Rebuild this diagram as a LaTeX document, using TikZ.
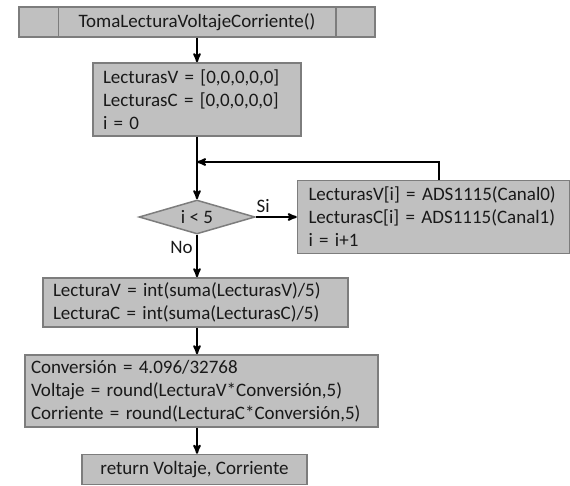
\documentclass[tikz,border=0pt]{standalone}
\usepackage{fontspec}
\setmainfont{Carlito}
\usepackage{tikz}
\usetikzlibrary{arrows}
\usetikzlibrary{positioning}
\usetikzlibrary{shapes.geometric}
\definecolor{boxfill}{RGB}{192,192,192}
\definecolor{boxline}{RGB}{125,125,125}
\tikzset{> = stealth',
  txt/.style = {font = \fontsize{19}{23}\selectfont, text = black!90},
  block/.style = {txt, draw = boxline, fill = boxfill, line width = 1.5pt,
    inner xsep = 10pt, inner ysep = 3pt, align = left},
  test/.style = {block, diamond, aspect = 3.4, inner sep = 0pt,
    minimum width = 116pt, minimum height = 34pt, align = center},
  flow/.style = {->, line width = 2pt}}

\begin{document}
\begin{tikzpicture}[x = 1pt, y = -1pt]
    \useasboundingbox (0,0) rectangle (570,486);
    \node [block, align = center, minimum width = 356pt, minimum height = 30pt] (func) at (197,22) {TomaLecturaVoltajeCorriente()};
    \draw [boxline, line width = 1.5pt] ([xshift = 40pt]func.north west) -- ([xshift = 40pt]func.south west);
    \draw [boxline, line width = 1.5pt] ([xshift = -40pt]func.north east) -- ([xshift = -40pt]func.south east);
    \node [block, text width = 188pt, minimum height = 73pt] (init) at (197,99.5) {LecturasV = [0,0,0,0,0]\\LecturasC = [0,0,0,0,0]\\i = 0};
    \node [test] (cond) at (197,217) {i < 5};
    \node [block, inner xsep = 11pt, text width = 250pt, minimum height = 73pt, right = 41pt of cond] (loop) {LecturasV[i] = ADS1115(Canal0)\\LecturasC[i] = ADS1115(Canal1)\\i = i+1};
    \node [block, text width = 285pt, minimum height = 49pt] (avg) at (195.5,302.5) {LecturaV = int(suma(LecturasV)/5)\\LecturaC = int(suma(LecturasC)/5)};
    \node [block, inner xsep = 6pt, text width = 341pt, minimum height = 72pt] (conv) at (201.5,391) {Conversión = 4.096/32768\\Voltaje = round(LecturaV*Conversión,5)\\Corriente = round(LecturaC*Conversión,5)};
    \node [block, align = center, minimum width = 225pt, minimum height = 30pt] (ret) at (194.5,469.5) {return Voltaje, Corriente};
    \coordinate (join) at (197,162);
    % paths
    \draw [flow] (func) -- (init);
    \draw [flow] (init) -- (cond);
    \draw [flow] (cond) -- node [txt, above, pos = 0.18] {Si} (loop);
    \draw [flow] ([xshift = 5pt]loop.north) |- (join);
    \draw [flow] (cond) -- node [txt, left, pos = 0.3] {No} (cond |- avg.north);
    \draw [flow] (avg.south -| cond) -- (conv.north -| cond);
    \draw [flow] (conv.south -| cond) -- (ret.north -| cond);
\end{tikzpicture}
\end{document}
